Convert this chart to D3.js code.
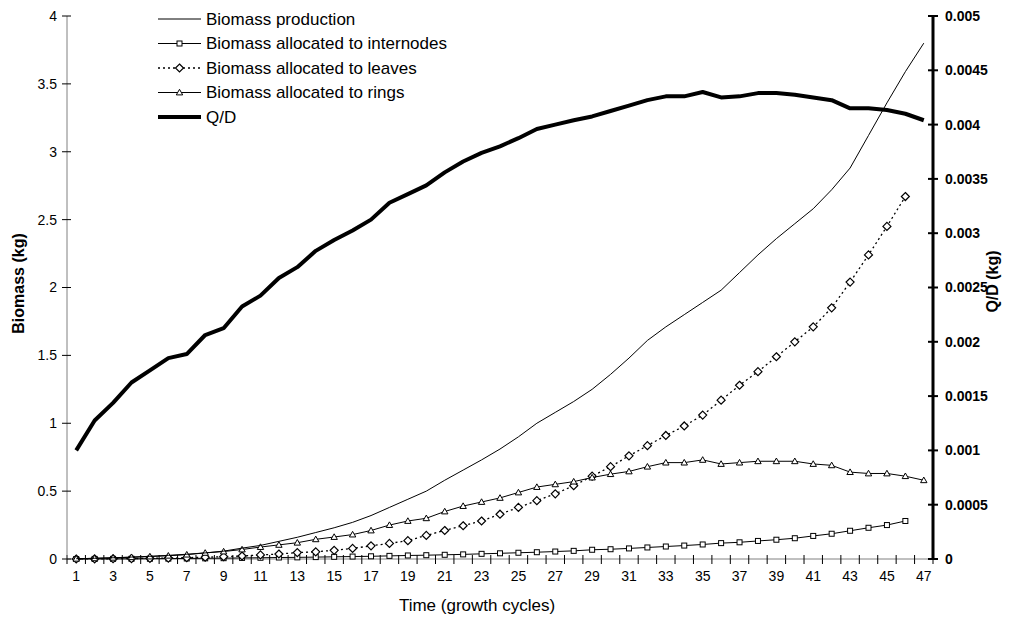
<!DOCTYPE html>
<html><head><meta charset="utf-8">
<script src="https://cdn.jsdelivr.net/npm/d3@7"></script>
<style>
body{margin:0;background:#fff;}
svg{font-family:"Liberation Sans",Arial,sans-serif;}
</style></head>
<body><svg id="c" width="1018" height="620"></svg>
<script>
const cycles = d3.range(1, 48);
const production = [0.002,0.005,0.009,0.014,0.02,0.027,0.035,0.045,0.058,0.08,0.10,0.13,0.16,0.195,0.23,0.27,0.32,0.38,0.44,0.50,0.58,0.655,0.73,0.81,0.90,1.0,1.08,1.16,1.25,1.36,1.48,1.61,1.71,1.80,1.89,1.98,2.11,2.24,2.36,2.47,2.58,2.72,2.88,3.12,3.36,3.59,3.80];
const internodes = [0.0,0.0005,0.001,0.0015,0.002,0.003,0.004,0.005,0.006,0.008,0.009,0.011,0.012,0.014,0.016,0.018,0.02,0.023,0.026,0.028,0.031,0.034,0.038,0.042,0.046,0.05,0.055,0.06,0.068,0.072,0.078,0.085,0.092,0.099,0.107,0.117,0.123,0.133,0.142,0.153,0.17,0.186,0.208,0.23,0.25,0.28];
const leaves = [0.0,0.001,0.002,0.003,0.005,0.007,0.01,0.013,0.017,0.022,0.03,0.037,0.047,0.053,0.064,0.078,0.097,0.115,0.135,0.174,0.21,0.245,0.28,0.33,0.38,0.43,0.48,0.54,0.61,0.68,0.76,0.835,0.91,0.98,1.06,1.17,1.28,1.38,1.49,1.60,1.71,1.85,2.04,2.24,2.45,2.67];
const rings = [0.002,0.005,0.009,0.013,0.018,0.024,0.032,0.045,0.055,0.07,0.088,0.104,0.12,0.145,0.162,0.18,0.21,0.25,0.28,0.30,0.35,0.39,0.42,0.45,0.49,0.53,0.55,0.57,0.60,0.625,0.645,0.68,0.71,0.71,0.73,0.70,0.71,0.72,0.72,0.72,0.70,0.69,0.64,0.63,0.63,0.61,0.58];
const qd = [0.001,0.001275,0.0014375,0.001625,0.0017375,0.00185,0.0018875,0.0020625,0.002125,0.002325,0.002425,0.0025875,0.0026875,0.0028375,0.0029375,0.003025,0.003125,0.00328,0.00336,0.00344,0.00356,0.00366,0.00374,0.0038,0.003875,0.00396,0.004,0.00404,0.004075,0.004125,0.004175,0.004225,0.00426,0.00426,0.0043,0.00425,0.00426,0.00429,0.00429,0.004275,0.00425,0.004225,0.00415,0.00415,0.004135,0.0041,0.00404];
const leftTicks = [0,0.5,1,1.5,2,2.5,3,3.5,4];
const rightTicks = [0,0.0005,0.001,0.0015,0.002,0.0025,0.003,0.0035,0.004,0.0045,0.005];
const legendLabels = ["Biomass production","Biomass allocated to internodes","Biomass allocated to leaves","Biomass allocated to rings","Q/D"];

const svg = d3.select("#c");
const L = 67, R = 933, T = 16, B = 559;
const x = d3.scaleBand().domain(cycles).range([L, R]).paddingInner(0).paddingOuter(0);
const cx = c => x(c) + x.bandwidth() / 2;
const yL = d3.scaleLinear().domain([0, 4]).range([B, T]);
const yR = d3.scaleLinear().domain([0, 0.005]).range([B, T]);

// x axis line + boundary ticks
const gx = svg.append("g");
gx.append("line").attr("x1", L).attr("x2", R).attr("y1", B).attr("y2", B).attr("stroke", "#808080").attr("stroke-width", 1);
const bounds = cycles.map(c => x(c)).concat([R]);
gx.selectAll("line.t").data(bounds).join("line").attr("class","t")
  .attr("x1", d => d).attr("x2", d => d).attr("y1", B - 4).attr("y2", B + 5)
  .attr("stroke", "#000").attr("stroke-width", 1);
gx.selectAll("text").data(cycles.filter(c => c % 2 === 1)).join("text")
  .attr("x", d => cx(d)).attr("y", B + 22).attr("text-anchor", "middle")
  .attr("font-size", 14).text(d => d);

// left axis
const gl = svg.append("g");
gl.append("line").attr("x1", L).attr("x2", L).attr("y1", T).attr("y2", B).attr("stroke", "#808080");
gl.selectAll("line.t").data(leftTicks).join("line").attr("class","t")
  .attr("x1", L - 5).attr("x2", L + 4).attr("y1", d => yL(d)).attr("y2", d => yL(d)).attr("stroke", "#000");
gl.selectAll("text").data(leftTicks).join("text")
  .attr("x", L - 10).attr("y", d => yL(d)).attr("dy", "0.35em").attr("text-anchor", "end")
  .attr("font-size", 14).text(d => d);

// right axis
const gr = svg.append("g");
gr.append("line").attr("x1", R).attr("x2", R).attr("y1", T - 1).attr("y2", B + 1).attr("stroke", "#000").attr("stroke-width", 3);
gr.selectAll("line.t").data(rightTicks).join("line").attr("class","t")
  .attr("x1", R - 5).attr("x2", R + 5).attr("y1", d => yR(d)).attr("y2", d => yR(d)).attr("stroke", "#000").attr("stroke-width", 2);
gr.selectAll("text").data(rightTicks).join("text")
  .attr("x", R + 12).attr("y", d => yR(d)).attr("dy", "0.35em").attr("text-anchor", "start")
  .attr("font-size", 14).attr("font-weight", "bold").text(d => d);

// titles
svg.append("text").attr("transform", `translate(24,${(T + B) / 2 - 4}) rotate(-90)`).attr("text-anchor", "middle")
  .attr("font-size", 16).attr("font-weight", "bold").text("Biomass (kg)");
svg.append("text").attr("transform", `translate(998,${(T + B) / 2 - 6}) rotate(-90)`).attr("text-anchor", "middle")
  .attr("font-size", 16).attr("font-weight", "bold").text("Q/D (kg)");
svg.append("text").attr("x", 477).attr("y", 611).attr("text-anchor", "middle").attr("font-size", 17).text("Time (growth cycles)");

const lineL = d3.line().x((d, i) => cx(cycles[i])).y(d => yL(d));
const lineR = d3.line().x((d, i) => cx(cycles[i])).y(d => yR(d));
const plot = svg.append("g");

function sq(g, px, py, s) { g.append("rect").attr("x", px - s/2).attr("y", py - s/2).attr("width", s).attr("height", s).attr("fill", "#fff").attr("stroke", "#000").attr("stroke-width", 1); }
function dia(g, px, py, s) { g.append("path").attr("d", `M${px},${py - s}L${px + s},${py}L${px},${py + s}L${px - s},${py}Z`).attr("fill", "#fff").attr("stroke", "#000").attr("stroke-width", 1.2); }
function tri(g, px, py, s) { g.append("path").attr("d", `M${px},${py - s}L${px + s},${py + s*0.75}L${px - s},${py + s*0.75}Z`).attr("fill", "#fff").attr("stroke", "#000").attr("stroke-width", 1); }

// internodes
plot.append("path").attr("d", lineL(internodes)).attr("fill", "none").attr("stroke", "#000").attr("stroke-width", 1);
internodes.forEach((v, i) => sq(plot, cx(cycles[i]), yL(v), 5));
// leaves
plot.append("path").attr("d", lineL(leaves)).attr("fill", "none").attr("stroke", "#000").attr("stroke-width", 1.3).attr("stroke-dasharray", "2,3");
leaves.forEach((v, i) => dia(plot, cx(cycles[i]), yL(v), 4));
// rings
plot.append("path").attr("d", lineL(rings)).attr("fill", "none").attr("stroke", "#000").attr("stroke-width", 1);
rings.forEach((v, i) => tri(plot, cx(cycles[i]), yL(v), 3.2));
// production
plot.append("path").attr("d", lineL(production)).attr("fill", "none").attr("stroke", "#000").attr("stroke-width", 1);
// Q/D
plot.append("path").attr("d", lineR(qd)).attr("fill", "none").attr("stroke", "#000").attr("stroke-width", 4).attr("stroke-linejoin", "round");

// legend
const lg = svg.append("g");
const ly = [19, 43.5, 68, 92.5, 117];
legendLabels.forEach((t, i) => {
  const yy = ly[i];
  const ln = lg.append("line").attr("x1", 158).attr("x2", 201).attr("y1", yy).attr("y2", yy).attr("stroke", "#000")
    .attr("stroke-width", i === 4 ? 4 : (i === 2 ? 1.3 : 1));
  if (i === 2) ln.attr("stroke-dasharray", "2,3");
  if (i === 1) sq(lg, 179.5, yy, 5);
  if (i === 2) dia(lg, 179.5, yy, 4);
  if (i === 3) tri(lg, 179.5, yy, 3.2);
  lg.append("text").attr("x", 206).attr("y", yy).attr("dy", "0.35em").attr("font-size", 17).text(t);
});
</script></body></html>
